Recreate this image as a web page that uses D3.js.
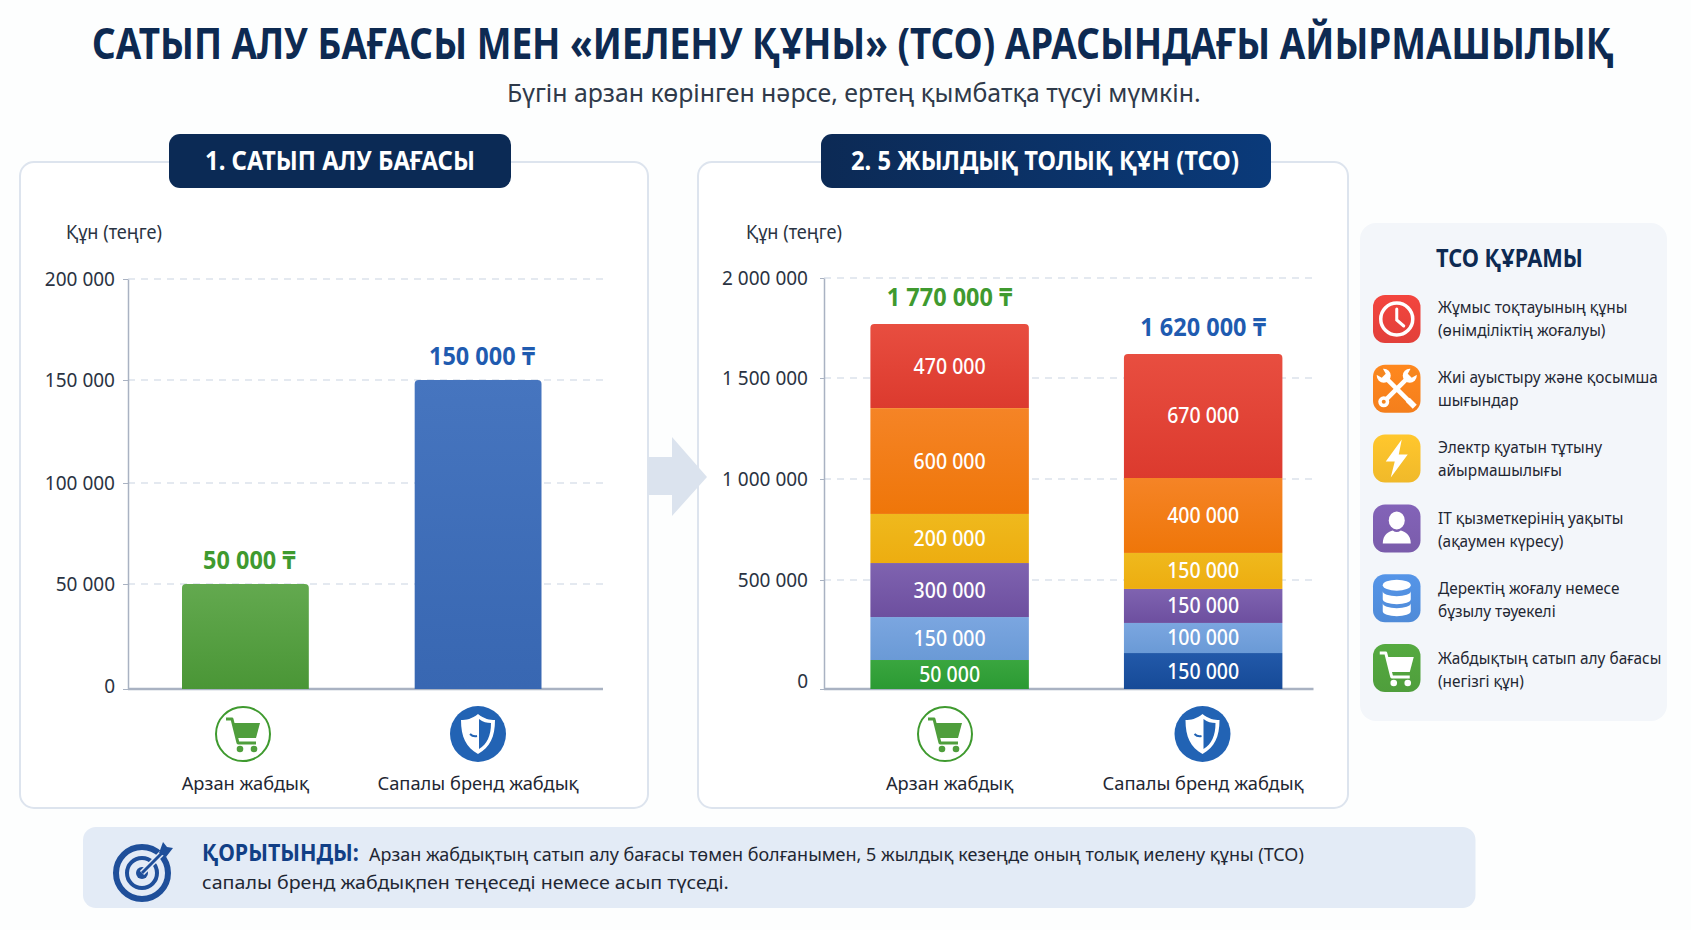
<!DOCTYPE html>
<html>
<head>
<meta charset="utf-8">
<script src="https://cdnjs.cloudflare.com/ajax/libs/d3/7.8.5/d3.min.js"></script>
<style>
  body { margin: 0; background: #fdfefe; }
  svg { display: block; }
  text { font-family: "Noto Sans", sans-serif; }
</style>
</head>
<body>
<div id="chart"></div>
<script>
// chart data
const categories = ['Арзан жабдық', 'Сапалы бренд жабдық'];
const purchaseValues = [50000, 150000];
const purchaseTicks = [0, 50000, 100000, 150000, 200000];
const tcoTicks = [0, 500000, 1000000, 1500000, 2000000];
const tcoTotals = [1770000, 1620000];

// printed numbers on the stack segments, bottom to top
const cheapLabels = [50000, 150000, 300000, 200000, 600000, 470000];
const brandLabels = [150000, 100000, 150000, 150000, 400000, 670000];
// the source picture does not draw its segments to scale, so these are the
// heights. they add up to the totals, the labels don't
const cheapDrawn = [133000, 197000, 254000, 243000, 524000, 419000];
const brandDrawn = [165000, 138000, 156000, 175000, 371000, 615000];

const segmentColors = [
  ['#3aa63f', '#2b9a33'], ['#7ba6e0', '#6a9ad6'], ['#7f63b0', '#6d4f9f'],
  ['#efb91d', '#edad10'], ['#f58426', '#ef7609'], ['#e84e40', '#dc3a2e']
];
const brandBase = ['#2259a9', '#164a97'];

const legendItems = [
  ['Жұмыс тоқтауының құны', '(өнімділіктің жоғалуы)'],
  ['Жиі ауыстыру және қосымша', 'шығындар'],
  ['Электр қуатын тұтыну', 'айырмашылығы'],
  ['IT қызметкерінің уақыты', '(ақаумен күресу)'],
  ['Деректің жоғалу немесе', 'бұзылу тәуекелі'],
  ['Жабдықтың сатып алу бағасы', '(негізгі құн)']
];
const legendColors = ['#e2403a', '#f47f1c', '#f0b92a', '#7a5cab', '#4f8bd8', '#4f9e3c'];

const navy = '#0d2a52';
const green = '#3f9a2f';
const blue = '#1f5bb0';

const fmt = d3.formatLocale({ thousands: ' ', grouping: [3], decimal: '.', currency: ['', ''] }).format(',');

const svg = d3.select('#chart').append('svg')
  .attr('width', 1691)
  .attr('height', 930);
const defs = svg.append('defs');

function gradient(id, top, bottom) {
  const g = defs.append('linearGradient').attr('id', id)
    .attr('x1', 0).attr('x2', 0).attr('y1', 0).attr('y2', 1);
  g.append('stop').attr('offset', '0%').attr('stop-color', top);
  g.append('stop').attr('offset', '100%').attr('stop-color', bottom);
  return `url(#${id})`;
}

// the picture's type is narrower than Noto Sans, so squeeze horizontally.
// width is a target in px, below 1 it's taken as a ratio of the natural width
function label(parent, str, x, y, size, weight, color, width, anchor) {
  const t = parent.append('text')
    .attr('font-size', size)
    .attr('font-weight', weight)
    .attr('fill', color)
    .attr('text-anchor', anchor || 'start')
    .text(str);
  const natural = t.node().getComputedTextLength();
  const sx = !width ? 1 : (width < 1 ? width : width / natural);
  t.attr('transform', `translate(${x},${y}) scale(${sx},1)`);
  return t;
}

// rect with only the top corners rounded
function topRounded(x, y, w, h, r) {
  const p = d3.path();
  p.moveTo(x, y + h);
  p.lineTo(x, y + r);
  p.quadraticCurveTo(x, y, x + r, y);
  p.lineTo(x + w - r, y);
  p.quadraticCurveTo(x + w, y, x + w, y + r);
  p.lineTo(x + w, y + h);
  p.closePath();
  return p.toString();
}

// ---- icons, all drawn around 0,0 ----
function cartIcon(g, color) {
  g.append('path').attr('d', 'M-17,-15 H-11 L-5,9 H13').attr('fill', 'none')
    .attr('stroke', color).attr('stroke-width', 3).attr('stroke-linejoin', 'round');
  g.append('path').attr('d', 'M-10,-11 H17 L13,4 H-6 Z').attr('fill', color);
  g.append('circle').attr('cx', -3).attr('cy', 15).attr('r', 3.3).attr('fill', color);
  g.append('circle').attr('cx', 11).attr('cy', 15).attr('r', 3.3).attr('fill', color);
}

function cartBadge(parent, cx, cy) {
  const g = parent.append('g').attr('transform', `translate(${cx},${cy})`);
  g.append('circle').attr('r', 27).attr('fill', '#fff').attr('stroke', green).attr('stroke-width', 2);
  cartIcon(g, '#4f9e3c');
}

function shieldBadge(parent, cx, cy) {
  const g = parent.append('g').attr('transform', `translate(${cx},${cy})`);
  g.append('circle').attr('r', 28).attr('fill', '#2263b4');
  g.append('path').attr('d', 'M0,-20 C6,-15 12,-14 17,-14 C17,3 12,13 0,20 C-12,13 -17,3 -17,-14 C-12,-14 -6,-15 0,-20 Z')
    .attr('fill', '#fff');
  g.append('path').attr('d', 'M1,-15 C5,-12 9,-11 13,-11 C13,2 9,10 1,15 Z').attr('fill', '#2263b4');
  g.append('path').attr('d', 'M-8,0 Q-5,3 -1,2').attr('fill', 'none').attr('stroke', '#2263b4').attr('stroke-width', 2);
}

const legendIcons = [
  g => { // clock
    g.append('circle').attr('r', 16).attr('fill', 'none').attr('stroke', '#fff').attr('stroke-width', 3.5);
    g.append('path').attr('d', 'M0,-10 V1 L7,7').attr('fill', 'none').attr('stroke', '#fff')
      .attr('stroke-width', 3).attr('stroke-linecap', 'round');
  },
  g => { // wrench and driver
    const cut = '#f5861f';
    g.append('path').attr('d', 'M-13,13 L13,-13 M-13,-13 L13,13').attr('stroke', '#fff').attr('stroke-width', 4.5);
    g.append('circle').attr('cx', 13).attr('cy', -13).attr('r', 7).attr('fill', '#fff');
    g.append('circle').attr('cx', -13).attr('cy', -13).attr('r', 7).attr('fill', '#fff');
    g.append('path').attr('d', 'M15,-22 L22,-15 L15,-11 L11,-15 Z').attr('fill', cut);
    g.append('path').attr('d', 'M-15,-22 L-22,-15 L-15,-11 L-11,-15 Z').attr('fill', cut);
    g.append('circle').attr('cx', -13).attr('cy', 13).attr('r', 5.5).attr('fill', '#fff');
    g.append('circle').attr('cx', -13).attr('cy', 13).attr('r', 2).attr('fill', cut);
    g.append('path').attr('d', 'M9,13 L13,9 L20,16 L16,20 Z').attr('fill', '#fff');
  },
  g => { // bolt
    g.append('path').attr('d', 'M5,-19 L-11,3 H-2 L-6,19 L11,-4 H2 Z').attr('fill', '#fff');
  },
  g => { // person
    g.append('ellipse').attr('cy', -8).attr('rx', 8).attr('ry', 9).attr('fill', '#fff');
    g.append('path').attr('d', 'M-14,15 C-14,6 -8,3 -4,2 Q0,5 4,2 C8,3 14,6 14,15 Z').attr('fill', '#fff');
  },
  g => { // database
    g.append('ellipse').attr('cy', -13).attr('rx', 14).attr('ry', 5.5).attr('fill', '#fff');
    [[-7, 1], [5, 13]].forEach(([a, b]) => {
      g.append('path').attr('d', `M-14,${a} A14,5 0 0 0 14,${a} V${b} A14,5 0 0 1 -14,${b} Z`).attr('fill', '#fff');
    });
  },
  g => cartIcon(g, '#fff')
];

function targetIcon(parent, cx, cy) {
  const c = '#1f4f9a';
  const g = parent.append('g').attr('transform', `translate(${cx},${cy})`);
  g.append('circle').attr('r', 26).attr('fill', 'none').attr('stroke', c).attr('stroke-width', 6);
  g.append('circle').attr('r', 15).attr('fill', 'none').attr('stroke', c).attr('stroke-width', 4);
  g.append('circle').attr('r', 6).attr('fill', c);
  g.append('path').attr('d', 'M0,0 L22,-22').attr('stroke', '#e3ebf6').attr('stroke-width', 6);
  g.append('path').attr('d', 'M0,0 L22,-22').attr('stroke', c).attr('stroke-width', 3);
  g.append('path').attr('d', 'M17,-20 L21,-31 L25,-26 L31,-25 L24,-16 Z').attr('fill', c);
}

// ---- chart helpers ----
function panel(x, y, w, h) {
  svg.append('rect')
    .attr('x', x).attr('y', y).attr('width', w).attr('height', h).attr('rx', 14)
    .attr('fill', '#fff').attr('stroke', '#dde4ee').attr('stroke-width', 2);
}

function axes(yScale, xScale, ticks, axisX, axisEnd, tickSize, padding, zeroDy) {
  // dashed grid behind the bars
  svg.append('g').selectAll('line').data(ticks.filter(d => d > 0)).join('line')
    .attr('x1', axisX).attr('x2', axisEnd)
    .attr('y1', d => yScale(d)).attr('y2', d => yScale(d))
    .attr('stroke', '#dbe2ec').attr('stroke-width', 1.5).attr('stroke-dasharray', '7 6');

  const left = svg.append('g')
    .attr('transform', `translate(${axisX},0)`)
    .call(d3.axisLeft(yScale).tickValues(ticks).tickFormat(fmt).tickSize(tickSize).tickPadding(padding).tickSizeOuter(0));
  left.select('.domain').attr('stroke', '#a9b2c2').attr('stroke-width', 1.5);
  left.selectAll('.tick line').attr('stroke', '#a9b2c2');
  left.selectAll('.tick text')
    .attr('font-size', 19).attr('fill', '#2a3342')
    .style('font-family', '"Noto Sans", sans-serif')
    .attr('dy', d => d === 0 ? zeroDy : '0.32em');

  svg.append('line')
    .attr('x1', axisX).attr('x2', axisEnd)
    .attr('y1', yScale(0)).attr('y2', yScale(0))
    .attr('stroke', '#a9b2c2').attr('stroke-width', 2.5);

  const bottom = svg.append('g')
    .attr('transform', `translate(0,${yScale(0)})`)
    .call(d3.axisBottom(xScale).tickSize(0).tickPadding(88));
  bottom.select('.domain').remove();
  bottom.selectAll('.tick text')
    .attr('font-size', 18.3).attr('fill', '#1f2733')
    .style('font-family', '"Noto Sans", sans-serif');
}

// ---- header ----
label(svg, 'САТЫП АЛУ БАҒАСЫ МЕН «ИЕЛЕНУ ҚҰНЫ» (TCO) АРАСЫНДАҒЫ АЙЫРМАШЫЛЫҚ', 92, 59, 43, 700, navy, 1522);
label(svg, 'Бүгін арзан көрінген нәрсе, ертең қымбатқа түсуі мүмкін.', 507, 102, 25, 400, '#2f3a4a', 694);

// ---- panel 1: purchase price ----
panel(20, 162, 628, 646);
const x1 = d3.scaleBand().domain(categories).range([182, 541.5]).paddingInner(0.455);
// tick spacing in the picture is not quite even, so the scale is piecewise
const y1 = d3.scaleLinear().domain(purchaseTicks).range([689, 584, 483, 380, 279]);
axes(y1, x1, purchaseTicks, 128, 603, 5, 8, '3px');

const barFills = [gradient('barG', '#63a94f', '#4a9636'), gradient('barB', '#4675bf', '#3867b2')];
svg.append('g').selectAll('path').data(purchaseValues).join('path')
  .attr('d', (d, i) => topRounded(x1(categories[i]), y1(d), x1.bandwidth(), y1(0) - y1(d), 4))
  .attr('fill', (d, i) => barFills[i]);
purchaseValues.forEach((d, i) => {
  label(svg, `${fmt(d)} ₸`, x1(categories[i]) + x1.bandwidth() / 2 + 4, y1(d) - 15,
    25, 700, i === 0 ? green : blue, 0.94, 'middle');
});

// ---- panel 2: 5 year TCO ----
panel(698, 162, 650, 646);
const x2 = d3.scaleBand().domain(categories).range([870.4, 1282.4]).paddingInner(0.375);
const y2 = d3.scaleLinear().domain(tcoTicks).range([689, 580, 479, 378, 278]);
axes(y2, x2, tcoTicks, 824, 1313.5, 4, 12, '-1.6px');

const stacks = [
  { drawn: cheapDrawn, labels: cheapLabels, total: tcoTotals[0], color: green },
  { drawn: brandDrawn, labels: brandLabels, total: tcoTotals[1], color: blue }
];
stacks.forEach((stack, s) => {
  const bx = x2(categories[s]);
  const bw = x2.bandwidth();
  const g = svg.append('g');
  const tops = d3.cumsum(stack.drawn);
  stack.drawn.forEach((d, i) => {
    const colors = (s === 1 && i === 0) ? brandBase : segmentColors[i];
    const fill = gradient(`seg${s}${i}`, colors[0], colors[1]);
    const yTop = y2(tops[i]);
    const yBot = y2(tops[i] - d);
    if (i === stack.drawn.length - 1) {
      g.append('path').attr('d', topRounded(bx, yTop, bw, yBot - yTop, 4)).attr('fill', fill);
    } else {
      g.append('rect').attr('x', bx).attr('y', yTop).attr('width', bw).attr('height', yBot - yTop).attr('fill', fill);
    }
    label(g, fmt(stack.labels[i]), bx + bw / 2, (yTop + yBot) / 2 + 7.5, 21, 500, '#fff', 0.93, 'middle');
  });
  label(g, `${fmt(stack.total)} ₸`, bx + bw / 2, y2(stack.total) - 18, 25, 700, stack.color, 0.94, 'middle');
});

// ---- headers on the panels, axis captions, badges ----
const pill2 = defs.append('linearGradient').attr('id', 'pill2');
pill2.append('stop').attr('offset', '0%').attr('stop-color', '#0c2a55');
pill2.append('stop').attr('offset', '100%').attr('stop-color', '#0a3a7a');

svg.append('rect').attr('x', 169).attr('y', 134).attr('width', 342).attr('height', 54).attr('rx', 11).attr('fill', '#0b2a55');
svg.append('rect').attr('x', 821).attr('y', 134).attr('width', 450).attr('height', 54).attr('rx', 11).attr('fill', 'url(#pill2)');
label(svg, '1. САТЫП АЛУ БАҒАСЫ', 205, 170, 27, 700, '#fff', 270);
label(svg, '2. 5 ЖЫЛДЫҚ ТОЛЫҚ ҚҰН (TCO)', 851, 170, 27, 700, '#fff', 388);

label(svg, 'Құн (теңге)', 66, 239, 19, 400, '#2a3342', 96);
label(svg, 'Құн (теңге)', 746, 239, 19, 400, '#2a3342', 96);

cartBadge(svg, 243, 734);
shieldBadge(svg, 478, 734);
cartBadge(svg, 945, 734);
shieldBadge(svg, 1202.5, 734);

// arrow sits on top of both panel borders
svg.append('path')
  .attr('d', 'M648,457 H672 V437 L707,477 L672,516 V495 H648 Z')
  .attr('fill', '#dbe3ee');

// ---- legend ----
svg.append('rect').attr('x', 1360).attr('y', 223).attr('width', 307).attr('height', 498).attr('rx', 16).attr('fill', '#f3f6fa');
label(svg, 'TCO ҚҰРАМЫ', 1436, 267, 25, 700, navy, 147);
legendItems.forEach((lines, i) => {
  const y = 295 + i * 69.8;
  const textY = 313 + i * 70.2;
  const fill = gradient(`leg${i}`, d3.color(legendColors[i]).brighter(0.2).formatHex(), legendColors[i]);
  svg.append('rect').attr('x', 1373).attr('y', y).attr('width', 47.5).attr('height', 48).attr('rx', 12).attr('fill', fill);
  legendIcons[i](svg.append('g').attr('transform', `translate(1396.75,${y + 24})`));
  label(svg, lines[0], 1438, textY, 16.2, 400, '#1f2733', 0.95);
  label(svg, lines[1], 1438, textY + 23, 16.2, 400, '#1f2733', 0.95);
});

// ---- conclusion ----
svg.append('rect').attr('x', 83).attr('y', 827).attr('width', 1392.5).attr('height', 81).attr('rx', 13).attr('fill', '#e3ebf6');
targetIcon(svg, 142, 873);
label(svg, 'ҚОРЫТЫНДЫ:', 202, 861, 23, 700, '#123f86', 157);
label(svg, 'Арзан жабдықтың сатып алу бағасы төмен болғанымен, 5 жылдық кезеңде оның толық иелену құны (TCO)', 369, 861, 19, 400, '#1f2733', 935);
label(svg, 'сапалы бренд жабдықпен теңеседі немесе асып түседі.', 202, 889, 19, 400, '#1f2733', 527);
</script>
</body>
</html>
